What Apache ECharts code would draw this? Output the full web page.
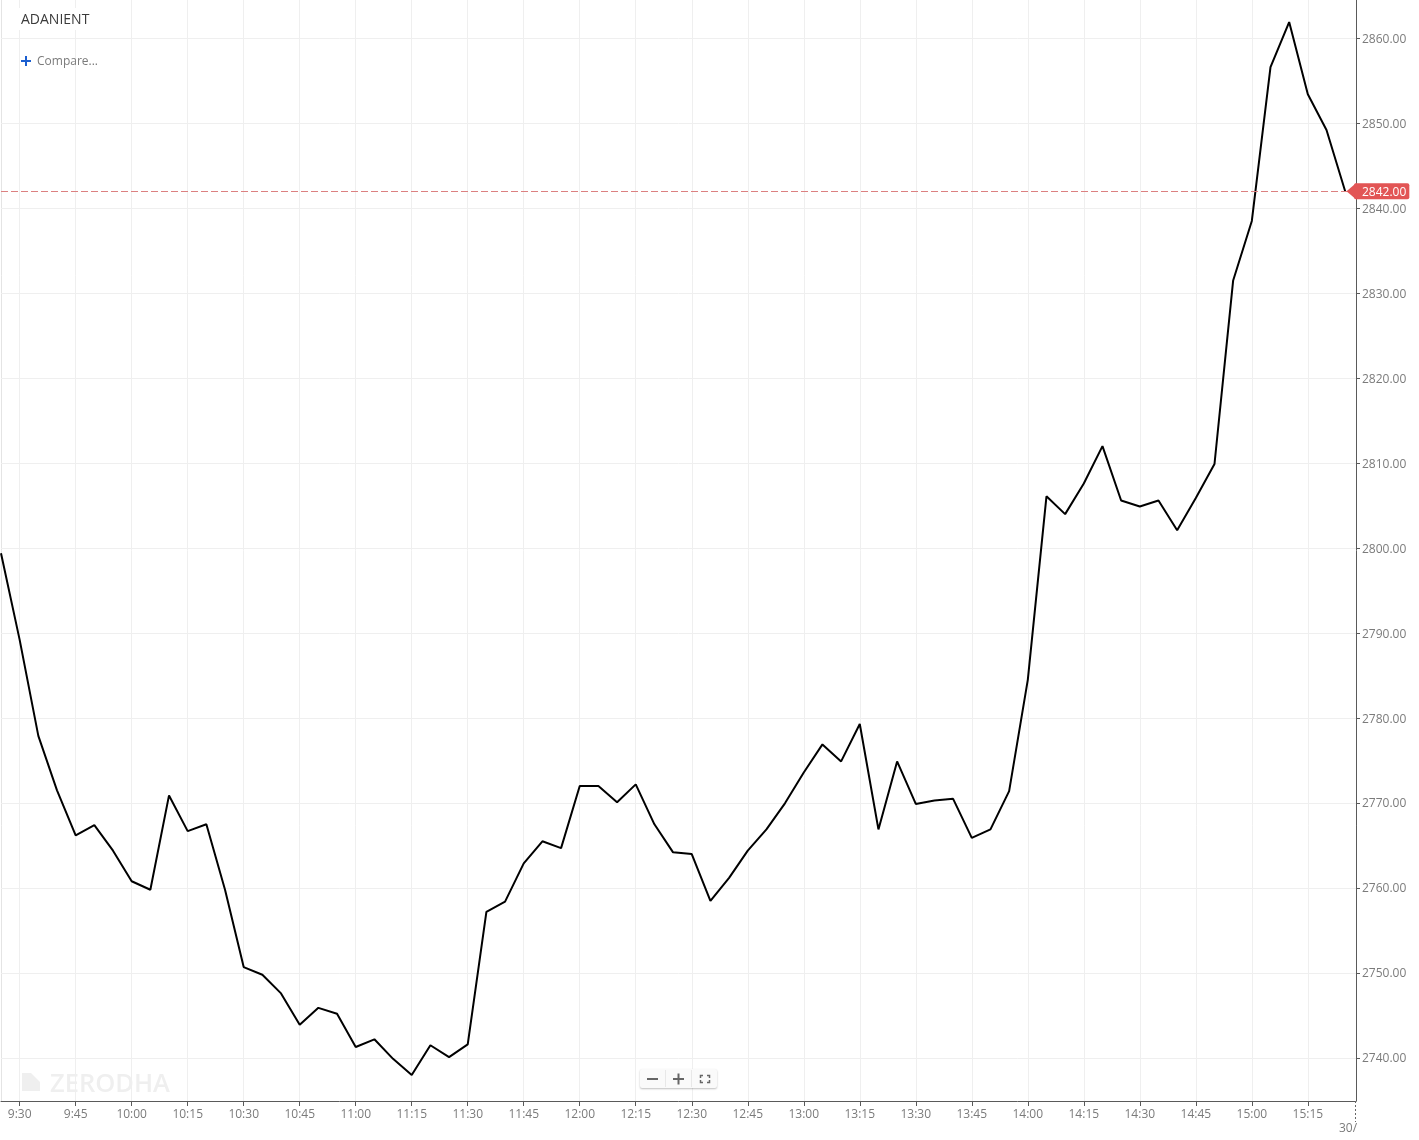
<!DOCTYPE html>
<html><head><meta charset="utf-8">
<style>html,body{margin:0;padding:0;background:#fff}#c{width:1419px;height:1140px}</style>
<script src="https://cdn.jsdelivr.net/npm/echarts@6/dist/echarts.min.js"></script>
</head><body><div id="c"></div>
<script>
const symbolName = 'ADANIENT';
const compareText = 'Compare...';
const watermarkText = 'ZERODHA';
const dateStub = '30/';
const lastPrice = 2842;
const startMinute = 565;   // 9:25
const stepMinutes = 5;
const axisMinX = 565;
const axisMaxX = 927.9;
const axisMinY = 2734.94;
const axisMaxY = 2864.5;
const closes = [
 2799.4,2789.2,2777.9,2771.5,2766.2,2767.4,2764.4,2760.8,2759.8,2770.9,
 2766.7,2767.5,2759.8,2750.7,2749.8,2747.6,2743.9,2745.9,2745.2,2741.3,
 2742.2,2739.9,2738.0,2741.5,2740.1,2741.6,2757.2,2758.4,2762.9,2765.5,
 2764.7,2772.0,2772.0,2770.1,2772.2,2767.5,2764.2,2764.0,2758.5,2761.2,
 2764.4,2766.9,2770.0,2773.6,2776.9,2774.9,2779.3,2766.9,2774.9,2769.9,
 2770.3,2770.5,2765.9,2766.9,2771.4,2784.5,2806.1,2804.0,2807.6,2812.0,
 2805.6,2804.9,2805.6,2802.1,2805.9,2809.9,2831.5,2838.5,2856.6,2861.9,
 2853.4,2849.2,2842.0];
const xTickMinutes = [570,585,600,615,630,645,660,675,690,705,720,735,750,765,780,795,810,825,840,855,870,885,900,915];
const yTickValues = [2740,2750,2760,2770,2780,2790,2800,2810,2820,2830,2840,2850,2860];

const points = closes.map((v,i)=>[startMinute+i*stepMinutes,v]);
const fmtTime = m => Math.floor(m/60)+':'+String(m%60).padStart(2,'0');
const FONT = '"Open Sans"';
const GRID = '#efefef', AX = '#5a5a5a', TXT = '#7b7b7b', RED = '#e25555';
const ICON = '#666';
const corner = (pts) => ({type:'polyline',shape:{points:pts},style:{stroke:ICON,fill:'none',lineWidth:1.5},silent:true,z:7});

const chart = echarts.init(document.getElementById('c'),null,{renderer:'canvas'});
chart.setOption({
  animation:false,
  backgroundColor:'#fff',
  grid:{left:1,right:63,top:0,bottom:39,containLabel:false},
  xAxis:{type:'value',min:axisMinX,max:axisMaxX,
    axisLine:{show:true,onZero:false,lineStyle:{color:AX,width:1}},
    axisTick:{show:true,length:5,customValues:xTickMinutes,lineStyle:{color:AX}},
    axisLabel:{show:true,customValues:xTickMinutes,formatter:v=>fmtTime(v),color:TXT,fontFamily:FONT,fontSize:12,margin:8,hideOverlap:false,showMinLabel:true,showMaxLabel:true},
    splitLine:{show:true,lineStyle:{color:GRID,width:1}}
  },
  yAxis:{type:'value',position:'right',min:axisMinY,max:axisMaxY,
    axisLine:{show:true,lineStyle:{color:AX,width:1}},
    axisTick:{show:true,length:4,customValues:yTickValues,lineStyle:{color:AX}},
    axisLabel:{show:true,customValues:yTickValues,formatter:v=>'{p|'+v.toFixed(2)+'}',margin:6,
      rich:{p:{color:TXT,fontFamily:FONT,fontSize:12,padding:[2,0,0,0]}}},
    splitLine:{show:true,lineStyle:{color:GRID,width:1}}
  },
  series:[{
    type:'line',data:points,showSymbol:false,smooth:false,clip:false,
    lineStyle:{color:'#000',width:2},
    markLine:{silent:true,symbol:'none',animation:false,
      lineStyle:{color:'#dc8080',type:[7,3],width:1},
      label:{show:true,position:'end',distance:-2,formatter:()=>'{t|'+lastPrice.toFixed(2)+'}',backgroundColor:RED,borderRadius:2,
        padding:[1,3,1,8],rich:{t:{color:'#fff',fontFamily:FONT,fontSize:12,padding:[2,0,0,0]}}},
      data:[{yAxis:lastPrice}]},
    markPoint:{silent:true,animation:false,symbol:'triangle',symbolRotate:90,symbolSize:[17,10],itemStyle:{color:RED},label:{show:false},
      data:[{coord:[axisMaxX-1.2,lastPrice]}]}
  }],
  graphic:[
    {type:'line',shape:{x1:1.5,y1:0,x2:1.5,y2:1101},style:{stroke:'#e4e4e4',lineWidth:1},silent:true,z:0},
    {type:'rect',shape:{x:18,y:8,width:75,height:22},style:{fill:'#fff'},silent:true,z:5},
    {type:'text',left:21,top:13,style:{text:symbolName,fill:'#3a3a3a',font:'14px '+FONT},silent:true,z:6},
    {type:'line',shape:{x1:21,y1:61,x2:31,y2:61},style:{stroke:'#1b5fd0',lineWidth:2},silent:true,z:6},
    {type:'line',shape:{x1:26,y1:56,x2:26,y2:66},style:{stroke:'#1b5fd0',lineWidth:2},silent:true,z:6},
    {type:'text',left:37,top:56,style:{text:compareText,fill:'#7b7b7b',font:'12px '+FONT},silent:true,z:6},
    {type:'polygon',shape:{points:[[22,1073],[40,1073],[40,1091],[22,1091]]},style:{fill:'#efefef'},silent:true,z:1},
    {type:'polygon',shape:{points:[[31,1073],[40,1073],[40,1082]]},style:{fill:'#fff'},silent:true,z:1},
    {type:'text',left:50,top:1072,style:{text:watermarkText,fill:'#efefef',font:'600 25.5px '+FONT},silent:true,z:1},
    {type:'rect',shape:{x:640,y:1069,width:77,height:19,r:2},style:{fill:'#fafafa',shadowBlur:2,shadowColor:'rgba(0,0,0,0.25)',shadowOffsetY:1},silent:true,z:6},
    {type:'line',shape:{x1:647,y1:1079,x2:658,y2:1079},style:{stroke:ICON,lineWidth:2},silent:true,z:7},
    {type:'line',shape:{x1:665.5,y1:1070,x2:665.5,y2:1087},style:{stroke:'#e8e8e8',lineWidth:1},silent:true,z:7},
    {type:'line',shape:{x1:673,y1:1079,x2:684,y2:1079},style:{stroke:ICON,lineWidth:2},silent:true,z:7},
    {type:'line',shape:{x1:678.5,y1:1073.5,x2:678.5,y2:1084.5},style:{stroke:ICON,lineWidth:2},silent:true,z:7},
    {type:'line',shape:{x1:691.5,y1:1070,x2:691.5,y2:1087},style:{stroke:'#e8e8e8',lineWidth:1},silent:true,z:7},
    corner([[703,1075.5],[700.5,1075.5],[700.5,1078]]),
    corner([[707,1075.5],[709.5,1075.5],[709.5,1078]]),
    corner([[703,1082.5],[700.5,1082.5],[700.5,1080]]),
    corner([[707,1082.5],[709.5,1082.5],[709.5,1080]]),
    {type:'line',shape:{x1:1355.5,y1:1101,x2:1355.5,y2:1122},style:{stroke:'#666',lineWidth:1,lineDash:[2,2]},silent:true,z:4},
    {type:'text',left:1339,top:1123,style:{text:dateStub,fill:TXT,font:'12px '+FONT},silent:true,z:4}
  ]
});
</script></body></html>
